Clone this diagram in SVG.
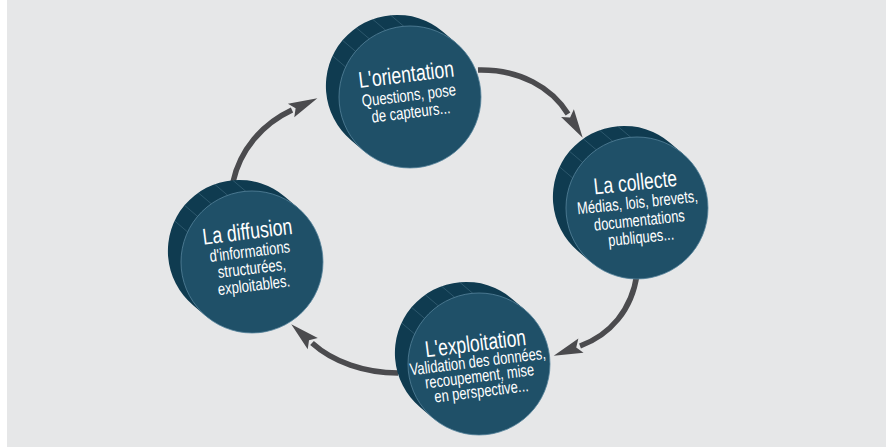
<svg xmlns="http://www.w3.org/2000/svg" width="886" height="447" viewBox="0 0 886 447">
<style>
.t{font-family:"Liberation Sans",Arial,sans-serif;fill:#ffffff;text-anchor:middle}
.h{font-size:23px}
.s{font-size:17px}
.side{fill:#0f3b50}
.face{fill:#1f5068;stroke:#55839a;stroke-width:0.8}
.rim{stroke:#6e97aa;stroke-width:0.7;opacity:0.45}
.arr{fill:none;stroke:#4b4b4e;stroke-width:5.5}
</style>
<defs>
<marker id="ah" markerUnits="userSpaceOnUse" orient="auto" refX="0" refY="0" markerWidth="40" markerHeight="30" overflow="visible">
<path d="M28,0 L-1,-7.5 L4,0 L-1,7.5 Z" fill="#4b4b4e"/>
</marker>
<g id="coin">
<path class="side" d="M45.9,-54.3 L32.9,-65.3 A71,71 0 1 0 -58.9,43.3 L-45.9,54.3 Z"/>
<g class="rim">
<line x1="-6.2" y1="-70.7" x2="-19.2" y2="-81.7"/>
<line x1="-24.3" y1="-66.7" x2="-37.3" y2="-77.7"/>
<line x1="-40.7" y1="-58.2" x2="-53.7" y2="-69.2"/>
<line x1="-54.4" y1="-45.6" x2="-67.4" y2="-56.6"/>
<line x1="-64.3" y1="-30" x2="-77.3" y2="-41"/>
</g>
<circle class="face" cx="0" cy="0" r="71"/>
</g>
</defs>
<rect x="0" y="0" width="886" height="447" fill="#ffffff"/>
<rect x="7" y="0" width="879" height="447" fill="#e6e7e8"/>
<g id="connectors">
<path class="arr" d="M478,70 C520,69 552,88 568,114" marker-end="url(#ah)"/>
<path class="arr" d="M637,274 C632,310 610,335 580,346" marker-end="url(#ah)"/>
<path class="arr" d="M398,373 C365,373 333,362 312,343" marker-end="url(#ah)"/>
<path class="arr" d="M233,182 C240,150 262,124 292,110" marker-end="url(#ah)"/>
</g>
<g id="orientation">
<use href="#coin" transform="translate(410,97)"/>
<g transform="translate(409,97) rotate(-7) scale(0.77,1)">
<text class="t h" x="0" y="-15">L'orientation</text>
<text class="t s" x="0" y="4">Questions, pose</text>
<text class="t s" x="0" y="21">de capteurs...</text>
</g>
</g>
<g id="collecte">
<use href="#coin" transform="translate(637,208)"/>
<g transform="translate(638,208) rotate(-6) scale(0.76,1)">
<text class="t h" x="0" y="-18">La collecte</text>
<text class="t s" x="0" y="0">Médias, lois, brevets,</text>
<text class="t s" x="0" y="18">documentations</text>
<text class="t s" x="0" y="35">publiques...</text>
</g>
</g>
<g id="exploitation">
<use href="#coin" transform="translate(479,364)"/>
<g transform="translate(478,364) rotate(-7) scale(0.76,1)">
<text class="t h" x="0" y="-13">L'exploitation</text>
<text class="t s" x="0" y="3">Validation des données,</text>
<text class="t s" x="0" y="18">recoupement, mise</text>
<text class="t s" x="0" y="33">en perspective...</text>
</g>
</g>
<g id="diffusion">
<use href="#coin" transform="translate(252,262)"/>
<g transform="translate(251,262) rotate(-7) scale(0.77,1)">
<text class="t h" x="0" y="-23">La diffusion</text>
<text class="t s" x="0" y="-5">d'informations</text>
<text class="t s" x="0" y="12">structurées,</text>
<text class="t s" x="0" y="29">exploitables.</text>
</g>
</g>
</svg>
